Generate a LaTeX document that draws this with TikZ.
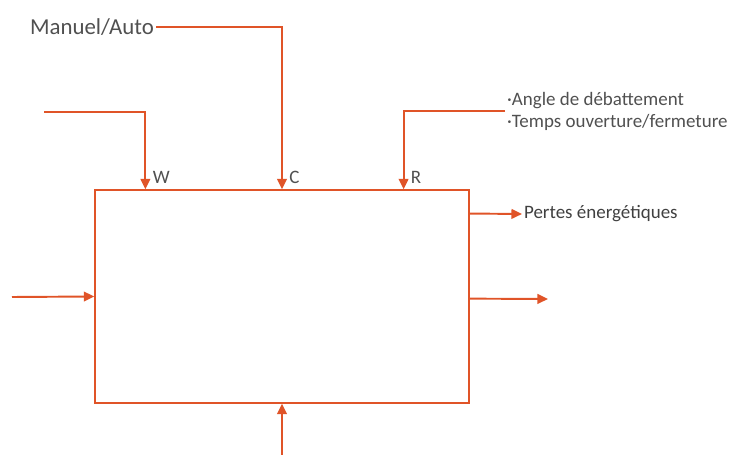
\documentclass[tikz,border=0pt]{standalone}
\usepackage{fontspec}
\setmainfont{Carlito}
\usetikzlibrary{arrows.meta,calc}
\definecolor{orangeline}{RGB}{224,84,40}
\definecolor{greytext}{RGB}{80,80,80}
\tikzset{
    flow/.style={draw=orangeline, line width=1.1pt, -{Triangle[length=6pt,width=5.5pt]}},
    lbl/.style={text=greytext, inner sep=1pt, font=\fontsize{10.8}{12.5}\selectfont},
}
\begin{document}
\begin{tikzpicture}[x=0.02cm, y=-0.02cm]
    \useasboundingbox (0,0) rectangle (730,455);
    % boite centrale
    \node[draw=orangeline, line width=0.8pt, minimum width=7.48cm, minimum height=4.26cm, inner sep=0pt] (box) at (282,296.5) {};
    % points d'entree sur la boite
    \coordinate (wpt) at ($(box.north west)!0.136!(box.north east)$);
    \coordinate (rpt) at ($(box.north west)!0.824!(box.north east)$);
    \coordinate (ppt) at ($(box.north east)!0.113!(box.south east)$);
    \coordinate (opt) at ($(box.north east)!0.51!(box.south east)$);
    % extremites libres
    \coordinate (wstart) at (44,112);
    \coordinate (instart) at (12,297);
    \coordinate (outend) at (548,299);
    \coordinate (botstart) at (282,455);
    % textes
    \node[lbl, anchor=east, font=\fontsize{13}{15}\selectfont] (manuel) at (156,27) {Manuel/Auto};
    \node[lbl, anchor=west, align=left] (angle) at (505,111) {·Angle de débattement\\·Temps ouverture/fermeture};
    \node[lbl, anchor=west, text=black!75] (pertes) at (522,214) {Pertes énergétiques};
    % fleches du haut
    \draw[flow] (wstart) -| (wpt);
    \node[lbl, anchor=south west] (wlbl) at ([xshift=3pt,yshift=2pt]wpt) {W};
    \draw[flow] (manuel.east) -| (box.north);
    \node[lbl, anchor=south west] (clbl) at ([xshift=3pt,yshift=2pt]box.north) {C};
    \draw[flow] (angle.west) -| (rpt);
    \node[lbl, anchor=south west] (rlbl) at ([xshift=3pt,yshift=2pt]rpt) {R};
    % fleches laterales et du bas
    \draw[flow] (ppt) -- (pertes.west);
    \draw[flow] (instart) -- (box.west);
    \draw[flow] (opt) -- (outend);
    \draw[flow] (botstart) -- (box.south);
\end{tikzpicture}
\end{document}
